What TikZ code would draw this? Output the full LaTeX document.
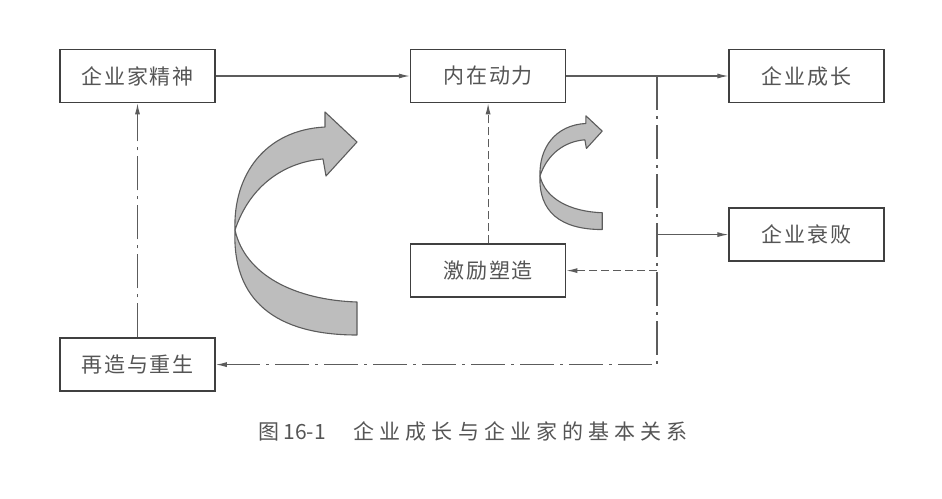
\documentclass[tikz,border=0pt]{standalone}
\usepackage{fontspec}
\setmainfont{Noto Sans CJK SC}
\newfontfamily\boxfont{Noto Sans CJK SC}[LetterSpace=9]
\newfontfamily\capfont{Noto Sans CJK SC}[LetterSpace=24]
\usepackage{tikz}
\usetikzlibrary{arrows.meta, positioning}
\definecolor{linegray}{HTML}{5C5C5C}
\definecolor{boxgray}{HTML}{404040}
\definecolor{textgray}{HTML}{555555}
\definecolor{ribbongray}{HTML}{BDBDBD}
\tikzset{
>={Latex[length=11pt,width=5pt]}, % small filled arrow heads
box/.style={draw=boxgray, line width=1.6pt, minimum width=155pt, minimum height=53pt, text=textgray, font=\boxfont\fontsize{21}{21}\selectfont}, % the boxes
flow/.style={->, draw=linegray, line width=1.1pt}, % solid connector
dashflow/.style={flow, dash pattern=on 8pt off 4pt}, % dashed connector
dotflow/.style={flow, dash pattern=on 34pt off 6pt on 3pt off 6pt}, % dash-dot connector
ribbon/.style={fill=ribbongray, draw=linegray, line width=1.1pt, line join=round}, % the twisted arrows
twist arrow/.pic={
    \filldraw[ribbon] (0,0) .. controls (-3,70) and (40,105) .. (122,105) -- (122,72)
        .. controls (60,70) and (10,45) .. (0,0) -- cycle;
    \filldraw[ribbon] (0,0) .. controls (-2,-55) and (30,-100) .. (90,-103) -- (90,-118)
        -- (122,-88) -- (91,-54) -- (88,-71) .. controls (50,-68) and (15,-45) .. (0,0) -- cycle;
}, % ribbon bent into a C, twisted at its left end
}

\begin{document}
\begin{tikzpicture}[x=1pt, y=-1pt]
    \useasboundingbox (0,0) rectangle (942,498);

    \node[box] (spirit) at (137.5,76) {企业家精神};
    \node[box, right=194pt of spirit] (power) {内在动力};
    \node[box, right=162pt of power] (growth) {企业成长};
    \node[box, below=104pt of growth] (decline) {企业衰败};
    \node[box, below=140pt of power] (incent) {激励塑造};
    \node[box, below=234pt of spirit] (rebirth) {再造与重生};

    \coordinate (split) at (657,76);
    \coordinate (corner) at (split |- rebirth);

    \draw[flow] (spirit) -- (power);
    \draw[flow] (power) -- (growth);
    \draw[flow] (split |- decline) -- (decline);
    \draw[dashflow] (split |- incent) -- (incent);
    \draw[dashflow] (incent) -- (power);
    \draw[dotflow] (split) -- (corner) -- (rebirth);
    \draw[dotflow] (rebirth) -- (spirit);

    \pic at (235,230) {twist arrow};
    \pic[scale=0.51] at (540,176) {twist arrow};

    \node[text=textgray, font=\fontsize{21}{21}\selectfont] (caption) at (473,431)
        {{\capfont 图}\hspace{4pt}16-1\hspace{28pt}{\capfont 企业成长与企业家的基本关系}};
\end{tikzpicture}
\end{document}
